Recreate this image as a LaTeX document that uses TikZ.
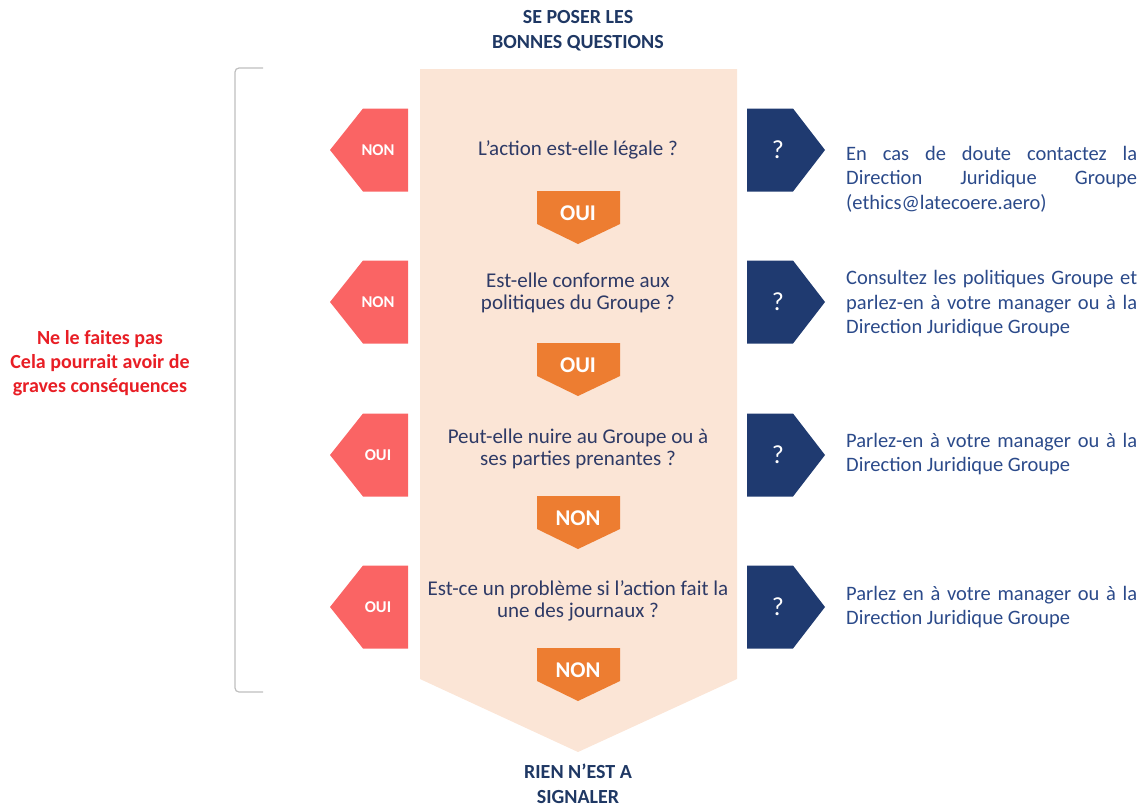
\documentclass[tikz,border=0pt]{standalone}
\usepackage{fontspec}
\setmainfont{Carlito}
\usetikzlibrary{positioning}
\definecolor{peach}{HTML}{FBE5D6}
\definecolor{nonred}{HTML}{FA6464}
\definecolor{okorange}{HTML}{ED7D31}
\definecolor{navy}{HTML}{1F3A70}
\definecolor{qblue}{HTML}{2E3A66}
\definecolor{titleblue}{HTML}{1F3864}
\definecolor{adblue}{HTML}{2B4A8A}
\definecolor{warnred}{HTML}{E81E25}
\hyphenpenalty=10000
\exhyphenpenalty=10000

\begin{document}
\begin{tikzpicture}[x=1pt,y=-1pt,
	title/.style={text=titleblue, font=\fontsize{20}{25}\selectfont\bfseries, align=center},
	question/.style={text=qblue, font=\fontsize{21}{21.5}\selectfont, align=center},
	advice/.style={text=adblue, font=\fontsize{20.5}{24.5}\selectfont, text width=291pt, align=justify, anchor=west, inner sep=0pt},
	sidelbl/.style={text=white, font=\fontsize{16.5}{18}\selectfont\bfseries},
	downlbl/.style={text=white, font=\fontsize{22.5}{24}\selectfont\bfseries},
	asklbl/.style={text=white, font=\fontsize{26}{28}\selectfont},
	warn/.style={text=warnred, font=\fontsize{20}{24}\selectfont\bfseries, align=center}]
	\useasboundingbox (0,0) rectangle (1145,807);
	
	% funnel behind the questions
	\fill[peach] (420,69) -- (737,69) -- (737,679) -- (578,752) -- (420,679) -- cycle;
	
	% bracket on the left
	\draw[black!25, line width=1.2pt, rounded corners=4pt] (263,68) -- (235,68) -- (235,692) -- (263,692);
	
	\node[title] (top) at (578,31) {SE POSER LES\\BONNES QUESTIONS};
	\node[title] (bottom) at (578,784) {RIEN N’EST A\\SIGNALER};
	\node[warn] (warning) at (100,363) {Ne le faites pas\\Cela pourrait avoir de\\graves conséquences};
	
	% the arrows of each row
	\foreach \y/\side/\down [count=\i] in {150/NON/OUI, 302/NON/OUI, 455/OUI/NON, 607/OUI/NON} {
		\fill[nonred] (330,\y) -- (363,{\y-41.5}) -- (408,{\y-41.5}) -- (408,{\y+41.5}) -- (363,{\y+41.5}) -- cycle;
		\fill[navy] (747,{\y-41.5}) -- (793,{\y-41.5}) -- (825,\y) -- (793,{\y+41.5}) -- (747,{\y+41.5}) -- cycle;
		\fill[okorange] (537,{\y+41}) -- (620,{\y+41}) -- (620,{\y+74}) -- (578,{\y+94}) -- (537,{\y+74}) -- cycle;
		\node[sidelbl] (side\i) at (378,\y) {\side};
		\node[asklbl] (ask\i) at (778,\y) {?};
		\node[downlbl] (down\i) at (578,{\y+63}) {\down};
	}
	
	\node[question] (q1) at (578,150) {L’action est-elle légale ?};
	\node[question] (q2) at (578,293) {Est-elle conforme aux\\politiques du Groupe ?};
	\node[question] (q3) at (578,449) {Peut-elle nuire au Groupe ou à\\ses parties prenantes ?};
	\node[question] (q4) at (578,601) {Est-ce un problème si l’action fait la\\une des journaux ?};
	
	\node[advice] (a1) at (846,179) {En cas de doute contactez la\linebreak Direction Juridique Groupe\linebreak (ethics@latecoere.aero)};
	\node[advice] (a2) at (846,304) {Consultez les politiques Groupe et\linebreak parlez-en à votre manager ou à la\linebreak Direction Juridique Groupe};
	\node[advice] (a3) at (846,454) {Parlez-en à votre manager ou à la\linebreak Direction Juridique Groupe};
	\node[advice] (a4) at (846,607) {Parlez en à votre manager ou à la\linebreak Direction Juridique Groupe};
\end{tikzpicture}
\end{document}
